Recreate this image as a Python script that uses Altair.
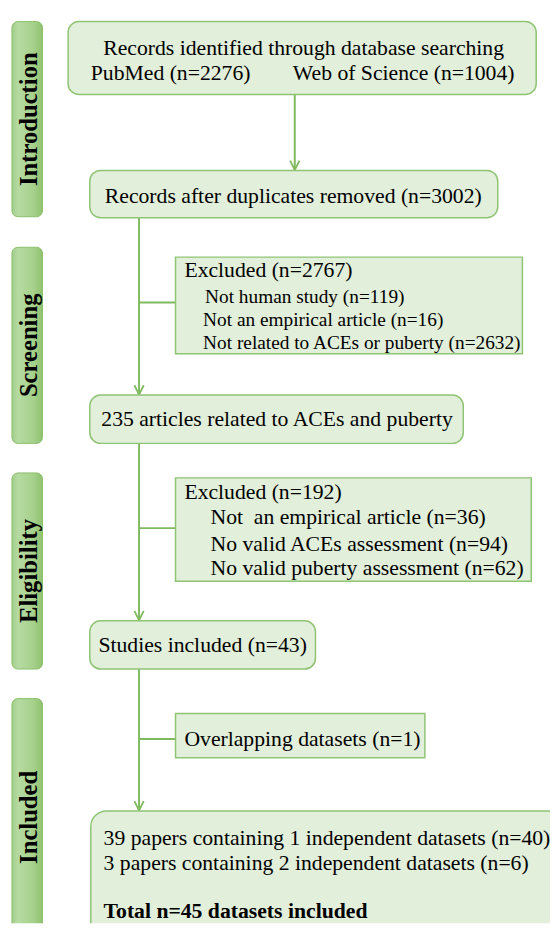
import altair as alt
import pandas as pd

# ---------------- content ----------------
stage_labels = ["Introduction", "Screening", "Eligibility", "Included"]

main_texts = [
    "Records identified through database searching",
    "Records after duplicates removed (n=3002)",
    "235 articles related to ACEs and puberty",
    "Studies included (n=43)",
]
source_texts = ["PubMed (n=2276)", "Web of Science (n=1004)"]

excluded1_texts = [
    "Excluded (n=2767)",
    "Not human study (n=119)",
    "Not an empirical article (n=16)",
    "Not related to ACEs or puberty (n=2632)",
]
excluded2_texts = [
    "Excluded (n=192)",
    "Not\u00a0 an empirical article (n=36)",
    "No valid ACEs assessment (n=94)",
    "No valid puberty assessment (n=62)",
]
overlap_texts = ["Overlapping datasets (n=1)"]
final_texts = [
    "39 papers containing 1 independent datasets (n=40)",
    "3 papers containing 2 independent datasets (n=6)",
]
final_bold = ["Total n=45 datasets included"]

# ---------------- layout (page pixel coordinates) ----------------
stage_x1, stage_x2 = 12, 43
stage_y1 = [15, 244, 473, 702]
stage_y2 = [213, 443, 672, 980]
stage_label_x = 37.5
stage_label_y = [114, 343.5, 572.5, 822.5]

main_x1 = [69, 91, 91, 91]
main_x2 = [544, 505, 470, 320]
main_y1 = [15, 166, 394, 623]
main_y2 = [89, 214, 443, 672]
main_text_x = [308, 297.5, 281, 205.5]
main_text_y = [49, 199, 425, 655]

source_x = [92, 297]
source_y = [74, 74]

side_x1 = [178, 178, 178]
side_x2 = [530, 539, 431]
side_y1 = [254, 478, 717]
side_y2 = [352, 583, 762]

ex1_x = [187, 208, 206, 206]
ex1_y = [274, 300.5, 324, 347]
ex1_size = [22, 19.6, 19.6, 19.6]
ex2_x = [187, 213.5, 213.5, 213.5]
ex2_y = [499, 525, 552, 577]
ov_x = [187]
ov_y = [750]

final_box = dict(x1=92, x2=620, y1=816, y2=990)
final_x = [105, 105]
final_y = [851, 876]
final_bold_x = [105]
final_bold_y = [925]

# connectors
seg_x1 = [299, 141, 141, 141, 141, 141, 141]
seg_x2 = [299, 141, 178, 141, 178, 141, 178]
seg_y1 = [89, 214, 300, 443, 529, 672, 743]
seg_y2 = [164, 392, 300, 621, 529, 814, 743]
arrow_x = [299, 141, 141, 141]
arrow_y = [165.5, 393.5, 622.5, 815.5]

# ---------------- styles ----------------
FONT = "Liberation Serif"
FILL = "#e2efda"
BOX_STROKE = "#8fc474"
LINE = "#7fba5e"

W, H = 550, 922
xs = alt.Scale(domain=[8, 8 + W], nice=False, zero=False)
ys = alt.Scale(domain=[8, 8 + H], nice=False, zero=False, reverse=True)


def X(f):
    return alt.X(f, type="quantitative", scale=xs, axis=None)


def Y(f):
    return alt.Y(f, type="quantitative", scale=ys, axis=None)


def X2(f):
    return alt.X2(f)


def Y2(f):
    return alt.Y2(f)


# stage bars
stage_df = pd.DataFrame({
    "x1": [stage_x1] * 4, "x2": [stage_x2] * 4,
    "y1": stage_y1, "y2": stage_y2, "label": stage_labels,
    "ly": stage_label_y, "lx": [stage_label_x] * 4,
})
grad = alt.Gradient(
    gradient="linear",
    stops=[
        alt.GradientStop(color="#a2cd88", offset=0),
        alt.GradientStop(color="#b6dba2", offset=0.2),
        alt.GradientStop(color="#a6d18c", offset=0.7),
        alt.GradientStop(color="#8fc270", offset=1),
    ],
    x1=0, x2=1, y1=0, y2=0,
)
stage_bars = alt.Chart(stage_df).mark_rect(
    fill=grad, stroke="#8cbf6d", strokeWidth=1, cornerRadius=6, clip=True
).encode(x=X("x1"), x2=X2("x2"), y=Y("y1"), y2=Y2("y2"))
stage_text = alt.Chart(stage_df).mark_text(
    font=FONT, fontSize=25, fontWeight="bold", angle=270,
    align="center", baseline="alphabetic", color="black",
).encode(x=X("lx"), y=Y("ly"), text="label:N")

# main rounded boxes
main_df = pd.DataFrame({"x1": main_x1, "x2": main_x2, "y1": main_y1, "y2": main_y2})
main_boxes = alt.Chart(main_df).mark_rect(
    fill=FILL, stroke=BOX_STROKE, strokeWidth=1.5, cornerRadius=11
).encode(x=X("x1"), x2=X2("x2"), y=Y("y1"), y2=Y2("y2"))

final_df = pd.DataFrame([final_box])
final_rect = alt.Chart(final_df).mark_rect(
    fill=FILL, stroke=BOX_STROKE, strokeWidth=1.5, cornerRadius=16, clip=True
).encode(x=X("x1"), x2=X2("x2"), y=Y("y1"), y2=Y2("y2"))

side_df = pd.DataFrame({"x1": side_x1, "x2": side_x2, "y1": side_y1, "y2": side_y2})
side_boxes = alt.Chart(side_df).mark_rect(
    fill=FILL, stroke=BOX_STROKE, strokeWidth=1.5
).encode(x=X("x1"), x2=X2("x2"), y=Y("y1"), y2=Y2("y2"))

# connectors
seg_df = pd.DataFrame({"x1": seg_x1, "x2": seg_x2, "y1": seg_y1, "y2": seg_y2})
segs = alt.Chart(seg_df).mark_rule(color=LINE, strokeWidth=2).encode(
    x=X("x1"), x2=X2("x2"), y=Y("y1"), y2=Y2("y2")
)
arrow_df = pd.DataFrame({"x": arrow_x, "y": arrow_y})
arrows = alt.Chart(arrow_df).mark_point(
    shape="M -1 -2 L 0 0 L 1 -2", filled=False, size=90,
    stroke=LINE, strokeWidth=1.8, opacity=1,
).encode(x=X("x"), y=Y("y"))

# texts
center_df = pd.DataFrame({"x": main_text_x, "y": main_text_y, "t": main_texts})
center_text = alt.Chart(center_df).mark_text(
    font=FONT, fontSize=22, align="center", baseline="alphabetic", color="black"
).encode(x=X("x"), y=Y("y"), text="t:N")

left_df = pd.DataFrame({
    "x": source_x + ex1_x + ex2_x + ov_x + final_x,
    "y": source_y + ex1_y + ex2_y + ov_y + final_y,
    "t": source_texts + excluded1_texts + excluded2_texts + overlap_texts + final_texts,
    "s": [22, 22] + ex1_size + [22] * 4 + [22] + [22, 22],
})
left_text = alt.Chart(left_df).mark_text(
    font=FONT, align="left", baseline="alphabetic", color="black"
).encode(x=X("x"), y=Y("y"), text="t:N", size=alt.Size("s:Q", scale=None, legend=None))

bold_df = pd.DataFrame({"x": final_bold_x, "y": final_bold_y, "t": final_bold})
bold_text = alt.Chart(bold_df).mark_text(
    font=FONT, fontSize=22, fontWeight="bold", align="left",
    baseline="alphabetic", color="black"
).encode(x=X("x"), y=Y("y"), text="t:N")

chart = alt.layer(
    stage_bars, stage_text, segs, arrows,
    main_boxes, final_rect, side_boxes,
    center_text, left_text, bold_text,
).properties(
    width=W, height=H, padding=0,
    autosize=alt.AutoSizeParams(type="none"),
).configure_view(stroke=None)

chart.save("out.html", embed_options={"renderer": "svg", "actions": False})
